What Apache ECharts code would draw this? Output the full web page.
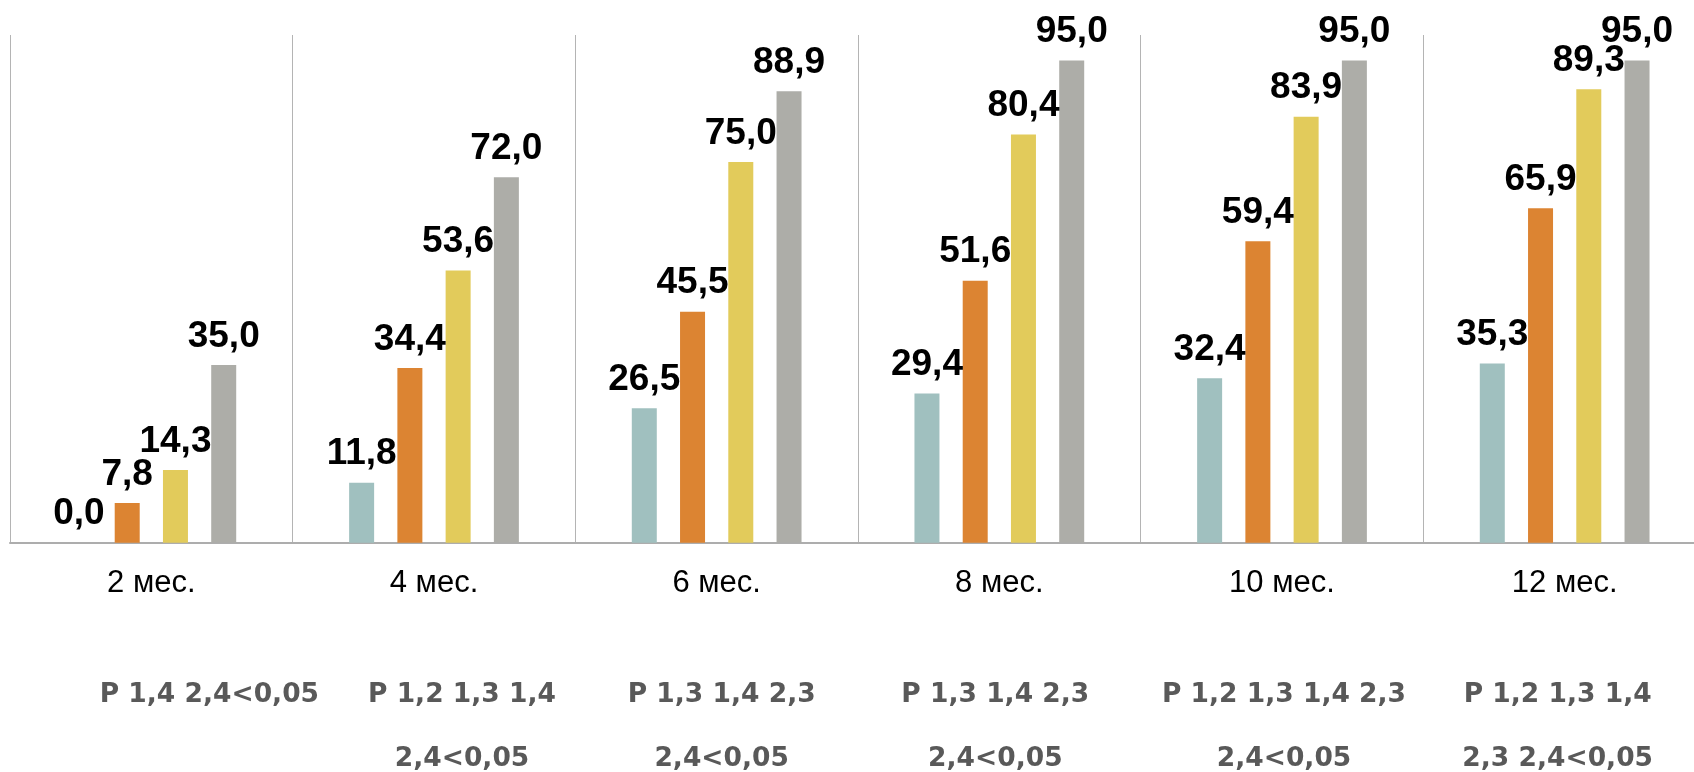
<!DOCTYPE html>
<html>
<head>
<meta charset="utf-8">
<title>Динамика по месяцам</title>
<script src="https://cdn.jsdelivr.net/npm/echarts@6/dist/echarts.min.js"></script>
<style>
  html, body { margin: 0; padding: 0; background: #ffffff; }
  #chart { width: 1694px; height: 772px; }
</style>
</head>
<body>
<div id="chart"></div>
<script>
// Months of observation
const categories = ['2 мес.', '4 мес.', '6 мес.', '8 мес.', '10 мес.', '12 мес.'];

// Values for the four groups, %
const group1 = [0.0, 11.8, 26.5, 29.4, 32.4, 35.3];
const group2 = [7.8, 34.4, 45.5, 51.6, 59.4, 65.9];
const group3 = [14.3, 53.6, 75.0, 80.4, 83.9, 89.3];
const group4 = [35.0, 72.0, 88.9, 95.0, 95.0, 95.0];

// Significance notes under each month (two lines each)
const notesLine1 = ['P 1,4 2,4<0,05', 'P 1,2 1,3 1,4', 'P 1,3 1,4 2,3', 'P 1,3 1,4 2,3', 'P 1,2 1,3 1,4 2,3', 'P 1,2 1,3 1,4'];
const notesLine2 = ['', '2,4<0,05', '2,4<0,05', '2,4<0,05', '2,4<0,05', '2,3 2,4<0,05'];

// Layout: horizontal shift of each note block from its month centre, px
const noteShift = [58, 28, 5, -4, 2, -7];

const seriesColors = ['#A0C0BF', '#DC8432', '#E2CB5B', '#ADADA8'];
const seriesData = [group1, group2, group3, group4];
const seriesNames = ['Группа 1', 'Группа 2', 'Группа 3', 'Группа 4'];

const fmt = v => v.toFixed(1).replace('.', ',');

const chart = echarts.init(document.getElementById('chart'), null, { renderer: 'canvas' });

const option = {
  animation: false,
  backgroundColor: '#ffffff',
  // The last month's column runs slightly past the right edge of the page
  grid: {
    left: 10, width: 1696, top: 35, bottom: 229.3,
    containLabel: false, outerBoundsMode: 'none'
  },
  xAxis: {
    type: 'category',
    data: categories,
    boundaryGap: true,
    axisLine: { show: true, lineStyle: { color: '#ADADAD', width: 2 } },
    axisTick: { show: false },
    splitLine: { show: true, lineStyle: { color: '#B4B4B4', width: 1 } },
    axisLabel: {
      margin: 25,
      color: '#000000',
      fontFamily: 'Liberation Sans, Arial, sans-serif',
      fontSize: 31
    }
  },
  yAxis: {
    type: 'value',
    min: 0,
    max: 100,
    interval: 20,
    show: false,
    splitLine: { show: false }
  },
  series: seriesData.map((d, i) => ({
    name: seriesNames[i],
    type: 'bar',
    data: d,
    barWidth: 25,
    barGap: '93%',
    itemStyle: { color: seriesColors[i] },
    label: {
      show: true,
      position: 'top',
      distance: 10,
      formatter: p => fmt(p.value),
      color: '#000000',
      fontFamily: 'Liberation Sans, Arial, sans-serif',
      fontWeight: 'bold',
      fontSize: 37
    }
  }))
};

chart.setOption(option);

// Significance notes placed under each month
const noteElements = [];
categories.forEach((c, i) => {
  const cx = chart.convertToPixel({ xAxisIndex: 0 }, c) + noteShift[i];
  [notesLine1[i], notesLine2[i]].forEach((t, j) => {
    if (!t) return;
    noteElements.push({
      type: 'text',
      x: cx,
      y: 695.5 + j * 64,
      style: {
        text: t,
        textAlign: 'center',
        textVerticalAlign: 'middle',
        fill: '#595959',
        font: 'bold 26.5px "DejaVu Sans", sans-serif'
      }
    });
  });
});
chart.setOption({ graphic: noteElements });
</script>
</body>
</html>
